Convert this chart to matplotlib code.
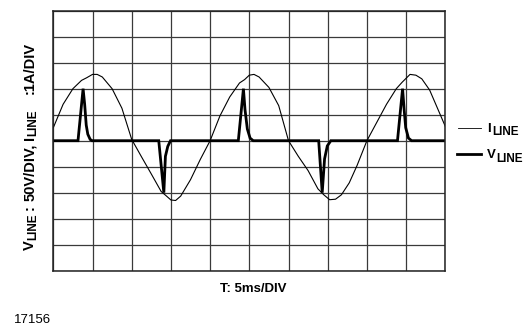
#!/usr/bin/env python3
"""Scope capture: line voltage and line current, redrawn with matplotlib."""

import matplotlib

matplotlib.use("Agg")
import matplotlib.pyplot as plt
from matplotlib.transforms import IdentityTransform

plt.rcParams["font.family"] = ["Liberation Sans", "DejaVu Sans"]

# I_LINE (thin trace) in division units
i_line_x = [
    0.00, 0.25, 0.50, 0.72, 0.85, 1.00, 1.12, 1.25, 1.50, 1.75,
    2.00, 2.25, 2.50, 2.75, 2.88, 3.00, 3.12, 3.25, 3.50, 3.75,
    4.00, 4.25, 4.50, 4.75, 4.88, 5.00, 5.12, 5.25, 5.50, 5.75,
    6.00, 6.25, 6.50, 6.75, 6.90, 7.05, 7.20, 7.35, 7.55, 7.75,
    8.00, 8.25, 8.50, 8.75, 8.90, 9.10, 9.25, 9.40, 9.60, 9.80, 10.00,
]
i_line_y = [
    0.50, 1.40, 2.00, 2.32, 2.42, 2.55, 2.55, 2.45, 2.00, 1.25,
    0.05, -0.62, -1.28, -1.95, -2.12, -2.28, -2.30, -2.13, -1.50, -0.72,
    0.00, 0.95, 1.68, 2.22, 2.35, 2.52, 2.55, 2.45, 2.05, 1.35,
    0.00, -0.60, -1.15, -1.85, -2.08, -2.27, -2.25, -2.08, -1.62, -0.95,
    0.00, 0.70, 1.40, 2.00, 2.25, 2.55, 2.52, 2.38, 1.95, 1.25, 0.55,
]

# V_LINE (thick trace): flat with short spikes
v_line_x = [
    0.00, 0.63, 0.76, 0.80, 0.84, 0.88, 0.94, 0.99,
    2.69, 2.82, 2.86, 2.92, 2.99,
    4.72, 4.85, 4.89, 4.95, 5.02, 5.10,
    6.77, 6.86, 6.92, 6.99, 7.08,
    8.78, 8.91, 8.95, 8.99, 9.06, 9.14,
    10.00,
]
v_line_y = [
    0.00, 0.00, 2.00, 1.40, 0.60, 0.25, 0.05, 0.00,
    0.00, -2.00, -0.60, -0.22, 0.00,
    0.00, 2.00, 1.20, 0.45, 0.10, 0.00,
    0.00, -2.00, -0.70, -0.20, 0.00,
    0.00, 2.00, 1.20, 0.50, 0.10, 0.00,
    0.00,
]

# (text, size, subscript?, gap after in px)
ylabel_parts = [
    ("V", 10.5, False, 0), ("LINE", 8.5, True, 4), (":", 10.5, False, 4),
    ("50V/DIV,", 10.5, False, 3), ("I", 10.5, False, 0), ("LINE", 8.5, True, 16),
    (":1A/DIV", 10.5, False, 0),
]

W, H = 526, 327
fig = plt.figure(figsize=(W / 100, H / 100), dpi=100)
ax = fig.add_axes([53.3 / W, 1 - 270.7 / H, 392 / W, 260 / H])
renderer = fig.canvas.get_renderer()


def rich_text(x, y, parts, vertical=False, drop=2.5):
    """Place text pieces one after another, in pixel coords (top-left origin)."""
    pos = y if vertical else x
    for text, size, sub, gap in parts:
        shift = drop if sub else 0
        if vertical:
            t = fig.text(x + shift, H - pos, text, fontsize=size, fontweight="bold",
                         rotation=90, rotation_mode="anchor", ha="left",
                         va="baseline", transform=IdentityTransform())
            pos -= t.get_window_extent(renderer).height + gap
        else:
            t = fig.text(pos, H - (y + shift), text, fontsize=size, fontweight="bold",
                         ha="left", va="baseline", transform=IdentityTransform())
            pos += t.get_window_extent(renderer).width + gap


ax.plot(i_line_x, i_line_y, color="black", linewidth=0.8)
ax.plot(v_line_x, v_line_y, color="black", linewidth=2.0, solid_joinstyle="miter")

ax.set_xlim(0, 10)
ax.set_ylim(-5, 5)
ax.set_xticks(range(0, 11))
ax.set_yticks(range(-5, 6))
ax.tick_params(length=0, labelbottom=False, labelleft=False)
ax.grid(True, color="#3a3a3a", linewidth=0.9)
for spine in ax.spines.values():
    spine.set_linewidth(1.1)
    spine.set_color("#222222")

fig.text(253 / W, 1 - 289 / H, "T: 5ms/DIV", fontsize=9.5, fontweight="bold",
         ha="center", va="center")
rich_text(34, 250, ylabel_parts, vertical=True)

# legend drawn by hand to the right of the grid
fig.add_artist(plt.Line2D([458 / W, 481 / W], [1 - 127.7 / H] * 2,
                          color="black", linewidth=0.6))
fig.add_artist(plt.Line2D([456.7 / W, 481 / W], [1 - 154.3 / H] * 2,
                          color="black", linewidth=2.0))
rich_text(487, 132, [("I", 9.5, False, 1.5), ("LINE", 8.5, True, 0)], drop=3)
rich_text(487, 158.5, [("V", 9.5, False, 0), ("LINE", 8.5, True, 0)], drop=3)

fig.text(14 / W, 1 - 320 / H, "17156", fontsize=9.5, va="center")

fig.savefig("out.png", dpi=100)
